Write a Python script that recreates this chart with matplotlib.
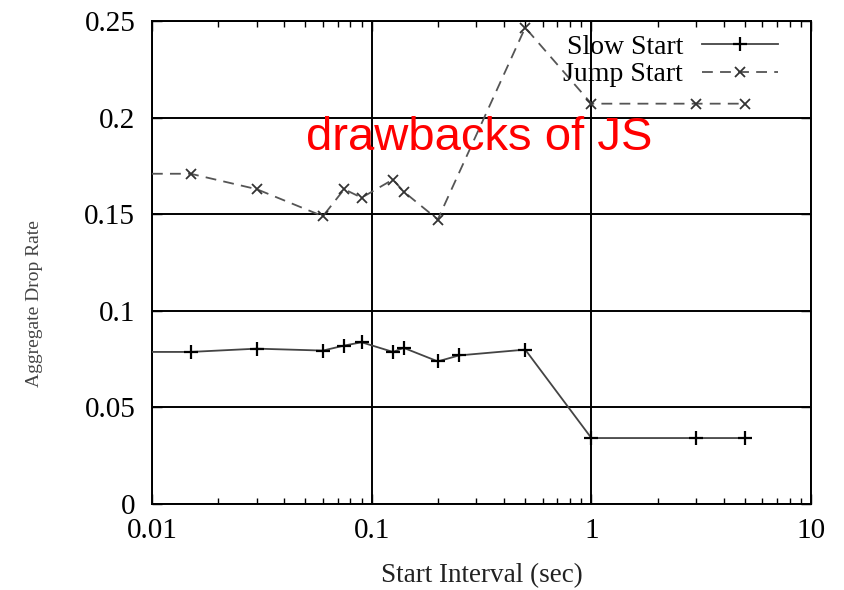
import matplotlib
matplotlib.use("Agg")
import matplotlib.pyplot as plt
from matplotlib.ticker import LogLocator, FixedLocator, NullFormatter

x_slow = [0.01, 0.015, 0.03, 0.06, 0.075, 0.09, 0.125, 0.14, 0.2, 0.25, 0.5, 1.0, 3.0, 5.0]
y_slow = [0.0787, 0.0787, 0.0804, 0.0794, 0.0820, 0.0837, 0.0787, 0.0808, 0.0738, 0.0769, 0.0799, 0.0341, 0.0341, 0.0341]

x_jump = [0.01, 0.015, 0.03, 0.06, 0.075, 0.09, 0.125, 0.14, 0.2, 0.5, 1.0, 3.0, 5.0]
y_jump = [0.171, 0.171, 0.163, 0.149, 0.163, 0.1586, 0.168, 0.1617, 0.1473, 0.2467, 0.2073, 0.2073, 0.2073]

x_ticks = [0.01, 0.1, 1, 10]
x_ticklabels = ["0.01", "0.1", "1", "10"]
y_ticks = [0, 0.05, 0.1, 0.15, 0.2, 0.25]
y_ticklabels = ["0", "0.05", "0.1", "0.15", "0.2", "0.25"]

plt.rcParams['font.family'] = ['Liberation Serif', 'DejaVu Serif']

fig = plt.figure(figsize=(8.44, 5.90), dpi=100)
ax = fig.add_axes([0.180, 0.146, 0.781, 0.818])

ax.plot(x_slow, y_slow, color='#444444', lw=1.3, marker='+', ms=10, mew=1.6,
        mec='black', label='Slow Start', markevery=list(range(1, len(x_slow))), zorder=3)
ax.plot(x_jump, y_jump, color='#555555', lw=1.3, ls=(0, (6, 4)), marker='x', ms=7,
        mew=1.3, mec='#333333', label='Jump Start', markevery=list(range(1, len(x_jump))),
        clip_on=False, zorder=3)

ax.set_xscale('log')
ax.set_xlim(0.01, 10)
ax.set_ylim(0, 0.25)
ax.xaxis.set_major_locator(FixedLocator(x_ticks))
ax.set_xticklabels(x_ticklabels)
ax.xaxis.set_minor_locator(LogLocator(base=10, subs=range(2, 10)))
ax.xaxis.set_minor_formatter(NullFormatter())
ax.set_yticks(y_ticks)
ax.set_yticklabels(y_ticklabels)

ax.grid(True, which='major', color='black', lw=1.4)
ax.tick_params(which='both', direction='in', top=True, right=True, labelsize=21)
ax.tick_params(axis='x', pad=10)
ax.tick_params(axis='y', pad=12)
ax.tick_params(which='major', length=7, width=1)
ax.tick_params(which='minor', length=4, width=1)
for s in ax.spines.values():
    s.set_linewidth(1.4)

ax.set_xlabel('Start Interval (sec)', fontsize=19.5, color='#222222')
ax.xaxis.set_label_coords(0.5, -0.122)
ax.set_ylabel('Aggregate Drop Rate', fontsize=14, color='#444444')
ax.yaxis.set_label_coords(-0.165, 0.414)

leg = ax.legend(loc='upper right', frameon=False, markerfirst=False, fontsize=20,
                handlelength=2.74, bbox_to_anchor=(0.967, 0.996), borderaxespad=0.0,
                labelspacing=0.08, handletextpad=0.68)

ax.text(0.496, 0.733, 'drawbacks of JS', transform=ax.transAxes, color='red',
        fontsize=34, family='Liberation Sans', ha='center', va='baseline', zorder=5)

fig.savefig('out.png', dpi=100, facecolor='white')
